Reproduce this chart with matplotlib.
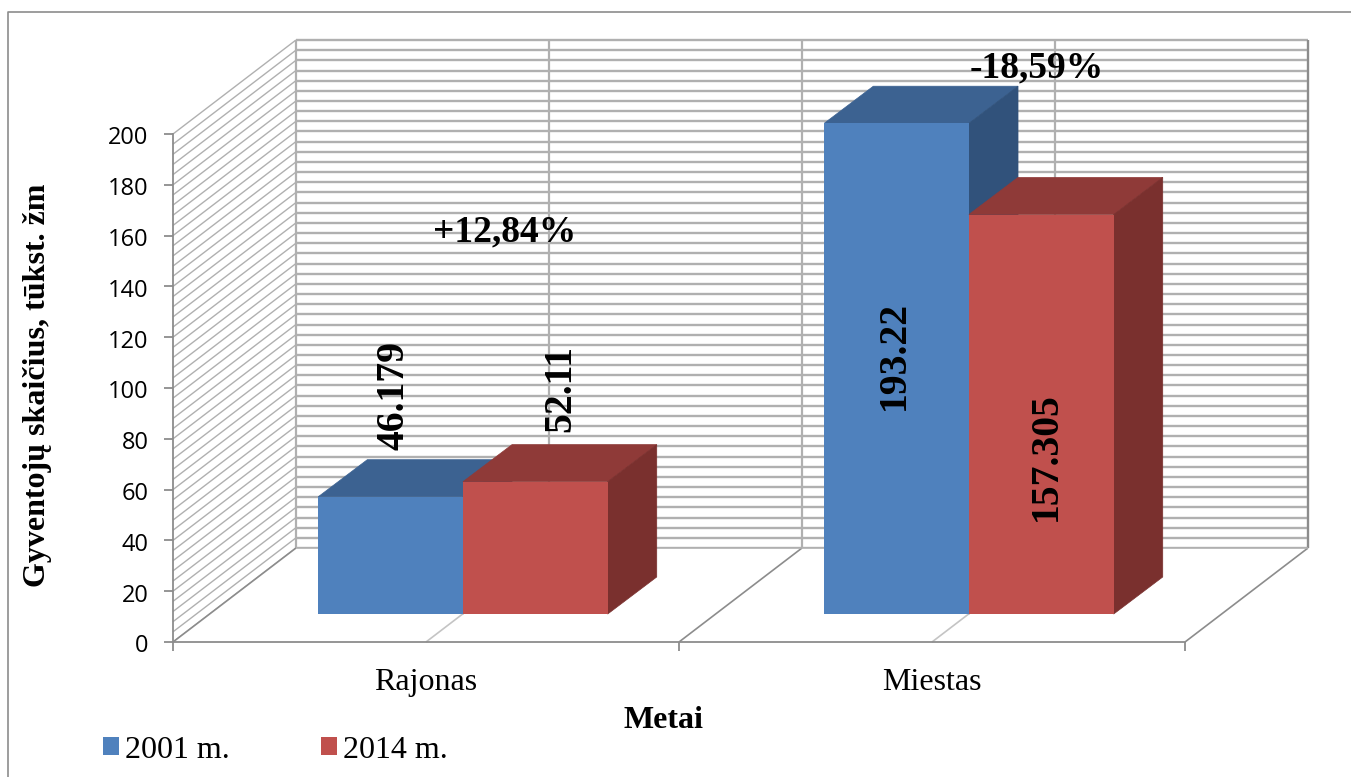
import numpy as np
import matplotlib
matplotlib.use("Agg")
import matplotlib.pyplot as plt
from matplotlib.lines import Line2D
from matplotlib.patches import Patch, Polygon
from matplotlib.transforms import ScaledTranslation

categories = ['Rajonas', 'Miestas']
series_names = ['2001 m.', '2014 m.']
values_2001 = [46.179, 193.22]
values_2014 = [52.11, 157.305]
value_labels_2001 = ['46.179', '193.22']
value_labels_2014 = ['52.11', '157.305']
change_labels = ['+12,84%', '-18,59%']
y_ticks = list(range(0, 201, 20))

W, H = 1351, 777
# 3D look: depth of the chart box and of the bars, in data units
box_dx, box_dy = 0.243, 37.0
bar_dx, bar_dy = 0.097, 14.6
base_dx, base_dy = 0.073, 11.0
bar_w = 0.286
grid_col = '#b0b0b0'
axis_col = '#8c8c8c'

plt.rcParams['font.family'] = ['Liberation Serif', 'DejaVu Sans']

fig = plt.figure(figsize=(W / 100, H / 100), dpi=100)
ax = fig.add_axes([173 / W, 1 - 642 / H, (1185 - 173) / W, (642 - 134) / H])
ax.set_xlim(0, 2)
ax.set_ylim(0, 200)


def line(xs, ys, col=grid_col, lw=1.1, z=1):
    ax.plot(xs, ys, color=col, lw=lw, zorder=z, clip_on=False, solid_capstyle='butt')


# back wall and side wall grid
for v in np.arange(0, 201, 4):
    line([0, box_dx], [v, v + box_dy], lw=1.0)
    line([box_dx, 2 + box_dx], [v + box_dy, v + box_dy], lw=1.7)
for c in np.arange(0, 2.01, 0.5):
    line([c + box_dx, c + box_dx], [box_dy, 200 + box_dy], lw=1.6)
line([2 + box_dx, 2 + box_dx], [box_dy, 200 + box_dy], col=axis_col, lw=1.6)

# floor in front of the back wall stays white
ax.add_patch(Polygon([[0, 0], [2, 0], [2 + box_dx, box_dy], [box_dx, box_dy]],
                     closed=True, fc='white', ec='none', zorder=1.5, clip_on=False))
for c in np.arange(0, 2.01, 0.5):
    line([c, c + box_dx], [0, box_dy], lw=1.2, col=axis_col if c % 1 == 0 else '#c4c4c4', z=1.6)
line([box_dx, 2 + box_dx], [box_dy, box_dy], lw=1.2, z=1.6)


def draw_bar(x0, val, front, top, side, z):
    x = x0 + base_dx
    y0 = base_dy
    y1 = base_dy + val
    ax.add_patch(Polygon([[x, y1], [x + bar_w, y1], [x + bar_w + bar_dx, y1 + bar_dy], [x + bar_dx, y1 + bar_dy]],
                         closed=True, fc=top, ec=top, lw=0.5, zorder=z, clip_on=False))
    ax.add_patch(Polygon([[x + bar_w, y0], [x + bar_w + bar_dx, y0 + bar_dy], [x + bar_w + bar_dx, y1 + bar_dy], [x + bar_w, y1]],
                         closed=True, fc=side, ec=side, lw=0.5, zorder=z, clip_on=False))
    ax.bar(x, val, width=bar_w, bottom=y0, align='edge', color=front, zorder=z + 0.1, clip_on=False)


for i in range(len(categories)):
    draw_bar(i + 0.214, values_2001[i], '#4f81bd', '#3c6291', '#31527b', 3 + i)
    draw_bar(i + 0.214 + bar_w, values_2014[i], '#c0504d', '#8f3a38', '#7a302e', 3.5 + i)

# axes
for s in ['top', 'right']:
    ax.spines[s].set_visible(False)
for s in ['left', 'bottom']:
    ax.spines[s].set_color(axis_col)
    ax.spines[s].set_linewidth(1.3)
    ax.spines[s].set_zorder(2)
ax.set_yticks(y_ticks)
ax.set_xticks([0, 1, 2])
ax.set_xticklabels([])
ax.set_xticks([0.5, 1.5], minor=True)
ax.set_xticklabels(categories, minor=True, fontsize=23)
ax.tick_params(axis='x', which='minor', length=0, pad=18.5)
ax.tick_params(axis='x', which='major', length=6.5, width=1.3, color=axis_col)
ax.tick_params(axis='y', length=6.5, width=1.3, color=axis_col, pad=11)
shift = ScaledTranslation(0, -1 / 72, fig.dpi_scale_trans)
for t in ax.get_yticklabels():
    t.set_fontfamily('Open Sans')
    t.set_fontsize(17)
    t.set_transform(t.get_transform() + shift)

# value labels
bold = dict(fontweight='bold', color='black', ha='center', va='center', zorder=8, clip_on=False)
ax.text(0.437, 97, value_labels_2001[0], rotation=90, fontsize=28.5, **bold)
ax.text(0.767, 100, value_labels_2014[0], rotation=90, fontsize=28.5, **bold)
ax.text(1.425, 113, value_labels_2001[1], rotation=90, fontsize=28.5, **bold)
ax.text(1.727, 73, value_labels_2014[1], rotation=90, fontsize=28.5, **bold)
ax.text(0.656, 161.5, change_labels[0], fontsize=27, **bold)
ax.text(1.708, 226, change_labels[1], fontsize=27, **bold)

# titles
fig.text(663 / W, 1 - 720 / H, 'Metai', fontsize=23, fontweight='bold', ha='center', va='center')
fig.text(38 / W, 1 - 385 / H, 'Gyventojų skaičius, tūkst. žm', fontsize=23, fontweight='bold',
         rotation=90, ha='center', va='center')

handles = [Patch(fc='#4f81bd', ec='none'), Patch(fc='#c0504d', ec='none')]
fig.legend(handles, series_names, ncol=2, frameon=False, fontsize=23, loc='center left',
           bbox_to_anchor=(93 / W, 1 - 750 / H), handlelength=0.5, handleheight=0.5,
           handletextpad=0.2, columnspacing=2.85, borderpad=0.3, borderaxespad=0)

# chart border
fig.add_artist(Line2D([8 / W, 8 / W, 1], [0, 1 - 12 / H, 1 - 12 / H], color='#8c8c8c', lw=1.2))

fig.savefig('out.png', dpi=100)
